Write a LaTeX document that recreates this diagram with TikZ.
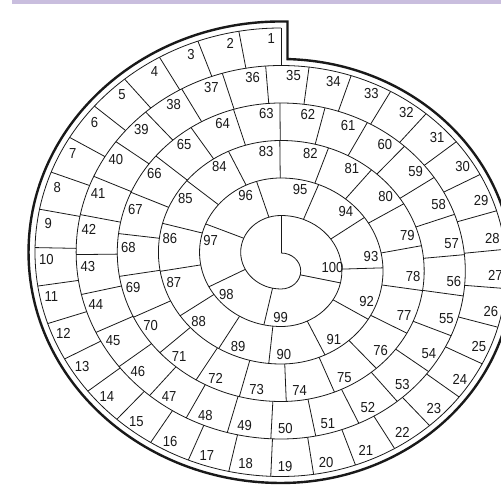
\documentclass[tikz,border=0pt]{standalone}
\usepackage{fontspec}
\newfontfamily\labfont{Liberation Sans}[FakeStretch=0.9]
\definecolor{band}{RGB}{201,190,222}
\definecolor{ink}{RGB}{25,25,25}
\tikzset{
  thinline/.style={draw=ink, line width=0.8pt},
  thickline/.style={draw=ink, line width=2.4pt, line join=miter},
  lab/.style={font=\labfont\fontsize{14.5}{14.5}\selectfont, text=ink, inner sep=0pt},
}
\begin{document}
\begin{tikzpicture}[x=1pt,y=-1pt]
\useasboundingbox (0,0) rectangle (501,486);
\clip (0,0) rectangle (501,486);
\fill[white] (0,0) rectangle (501,486);
\fill[band] (12,0) rectangle (501,3.6);
% outer thick border
\draw[thickline] (287.5,21.5) -- (287.5,59.08)
  arc[start angle=-88.4, end angle=90, x radius=231.93, y radius=212]
  arc[start angle=90, end angle=270, x radius=252.5, y radius=230.75] -- cycle;
% spiral
\draw[thinline] (281,253)
 arc[start angle=-90,end angle=90,x radius=19.746,y radius=18]
 arc[start angle=90,end angle=270,x radius=40.315,y radius=36.75]
 arc[start angle=-90,end angle=90,x radius=60.884,y radius=55.5]
 arc[start angle=90,end angle=270,x radius=81.452,y radius=74.25]
 arc[start angle=-90,end angle=90,x radius=102.021,y radius=93]
 arc[start angle=90,end angle=270,x radius=122.590,y radius=111.75]
 arc[start angle=-90,end angle=90,x radius=143.159,y radius=130.5]
 arc[start angle=90,end angle=270,x radius=163.727,y radius=149.25]
 arc[start angle=-90,end angle=90,x radius=184.296,y radius=168]
 arc[start angle=90,end angle=270,x radius=204.865,y radius=186.75]
 arc[start angle=-90,end angle=90,x radius=225.434,y radius=205.5]
 arc[start angle=90,end angle=270,x radius=246.002,y radius=224.25];
\draw[thinline] (281,253) -- (281,215.5);
\draw[thinline] (281,65.5) -- (281,28);
% radial cell boundaries
\foreach \k in {1,...,99} {
  \pgfmathsetmacro{\Ss}{\k*32.16207}
  \pgfmathsetmacro{\Uu}{\Ss/3.14159265}
  \pgfmathtruncatemacro{\Jj}{floor((-8.625+10*sqrt(0.74390625+0.375*\Uu))/18.75)}
  \pgfmathsetmacro{\Rr}{18+18.75*\Jj}
  \pgfmathsetmacro{\Oo}{\Ss-3.14159265*(9.375*\Jj*\Jj+8.625*\Jj)}
  \pgfmathtruncatemacro{\Hh}{mod(\Jj,2)}
  \pgfmathsetmacro{\Ph}{180*\Hh+\Oo/\Rr*57.29578}
  \pgfmathsetmacro{\Yc}{271-18.75*\Hh}
  \draw[thinline] ({281+1.097*\Rr*sin(\Ph)},{\Yc-\Rr*cos(\Ph)}) -- ({281+1.097*(\Rr+37.5)*sin(\Ph)},{\Yc-(\Rr+37.5)*cos(\Ph)});
}
% labels
\foreach \n in {1,...,100} {
  \pgfmathsetmacro{\Ss}{(101-\n)*32.16207-0.05}
  \pgfmathsetmacro{\Uu}{\Ss/3.14159265}
  \pgfmathtruncatemacro{\Jj}{floor((-8.625+10*sqrt(0.74390625+0.375*\Uu))/18.75)}
  \pgfmathsetmacro{\Rr}{18+18.75*\Jj}
  \pgfmathsetmacro{\Oo}{\Ss-3.14159265*(9.375*\Jj*\Jj+8.625*\Jj)}
  \pgfmathtruncatemacro{\Hh}{mod(\Jj,2)}
  \pgfmathsetmacro{\Ph}{180*\Hh+\Oo/\Rr*57.29578}
  \pgfmathsetmacro{\Yc}{271-18.75*\Hh}
  \pgfmathsetmacro{\Rl}{\Rr+27}
  \pgfmathsetmacro{\Px}{281+1.097*\Rl*sin(\Ph)}
  \pgfmathsetmacro{\Py}{\Yc-\Rl*cos(\Ph)}
  \pgfmathsetmacro{\Tx}{-1.097*cos(\Ph)}
  \pgfmathsetmacro{\Ty}{-sin(\Ph)}
  \pgfmathsetmacro{\Tn}{sqrt(\Tx*\Tx+\Ty*\Ty)}
  \pgfmathsetmacro{\Ux}{\Tx/\Tn}
  \pgfmathsetmacro{\Uy}{\Ty/\Tn}
  \pgfmathtruncatemacro{\Nd}{\n<10 ? 1 : (\n<100 ? 2 : 3)}
  \pgfmathsetmacro{\Dd}{3.8*\Nd*abs(\Ux)+5.4*abs(\Uy)+6}
  \node[lab] (c\n) at ({\Px+\Dd*\Ux},{\Py+\Dd*\Uy}) {\n};
}
\end{tikzpicture}
\end{document}
